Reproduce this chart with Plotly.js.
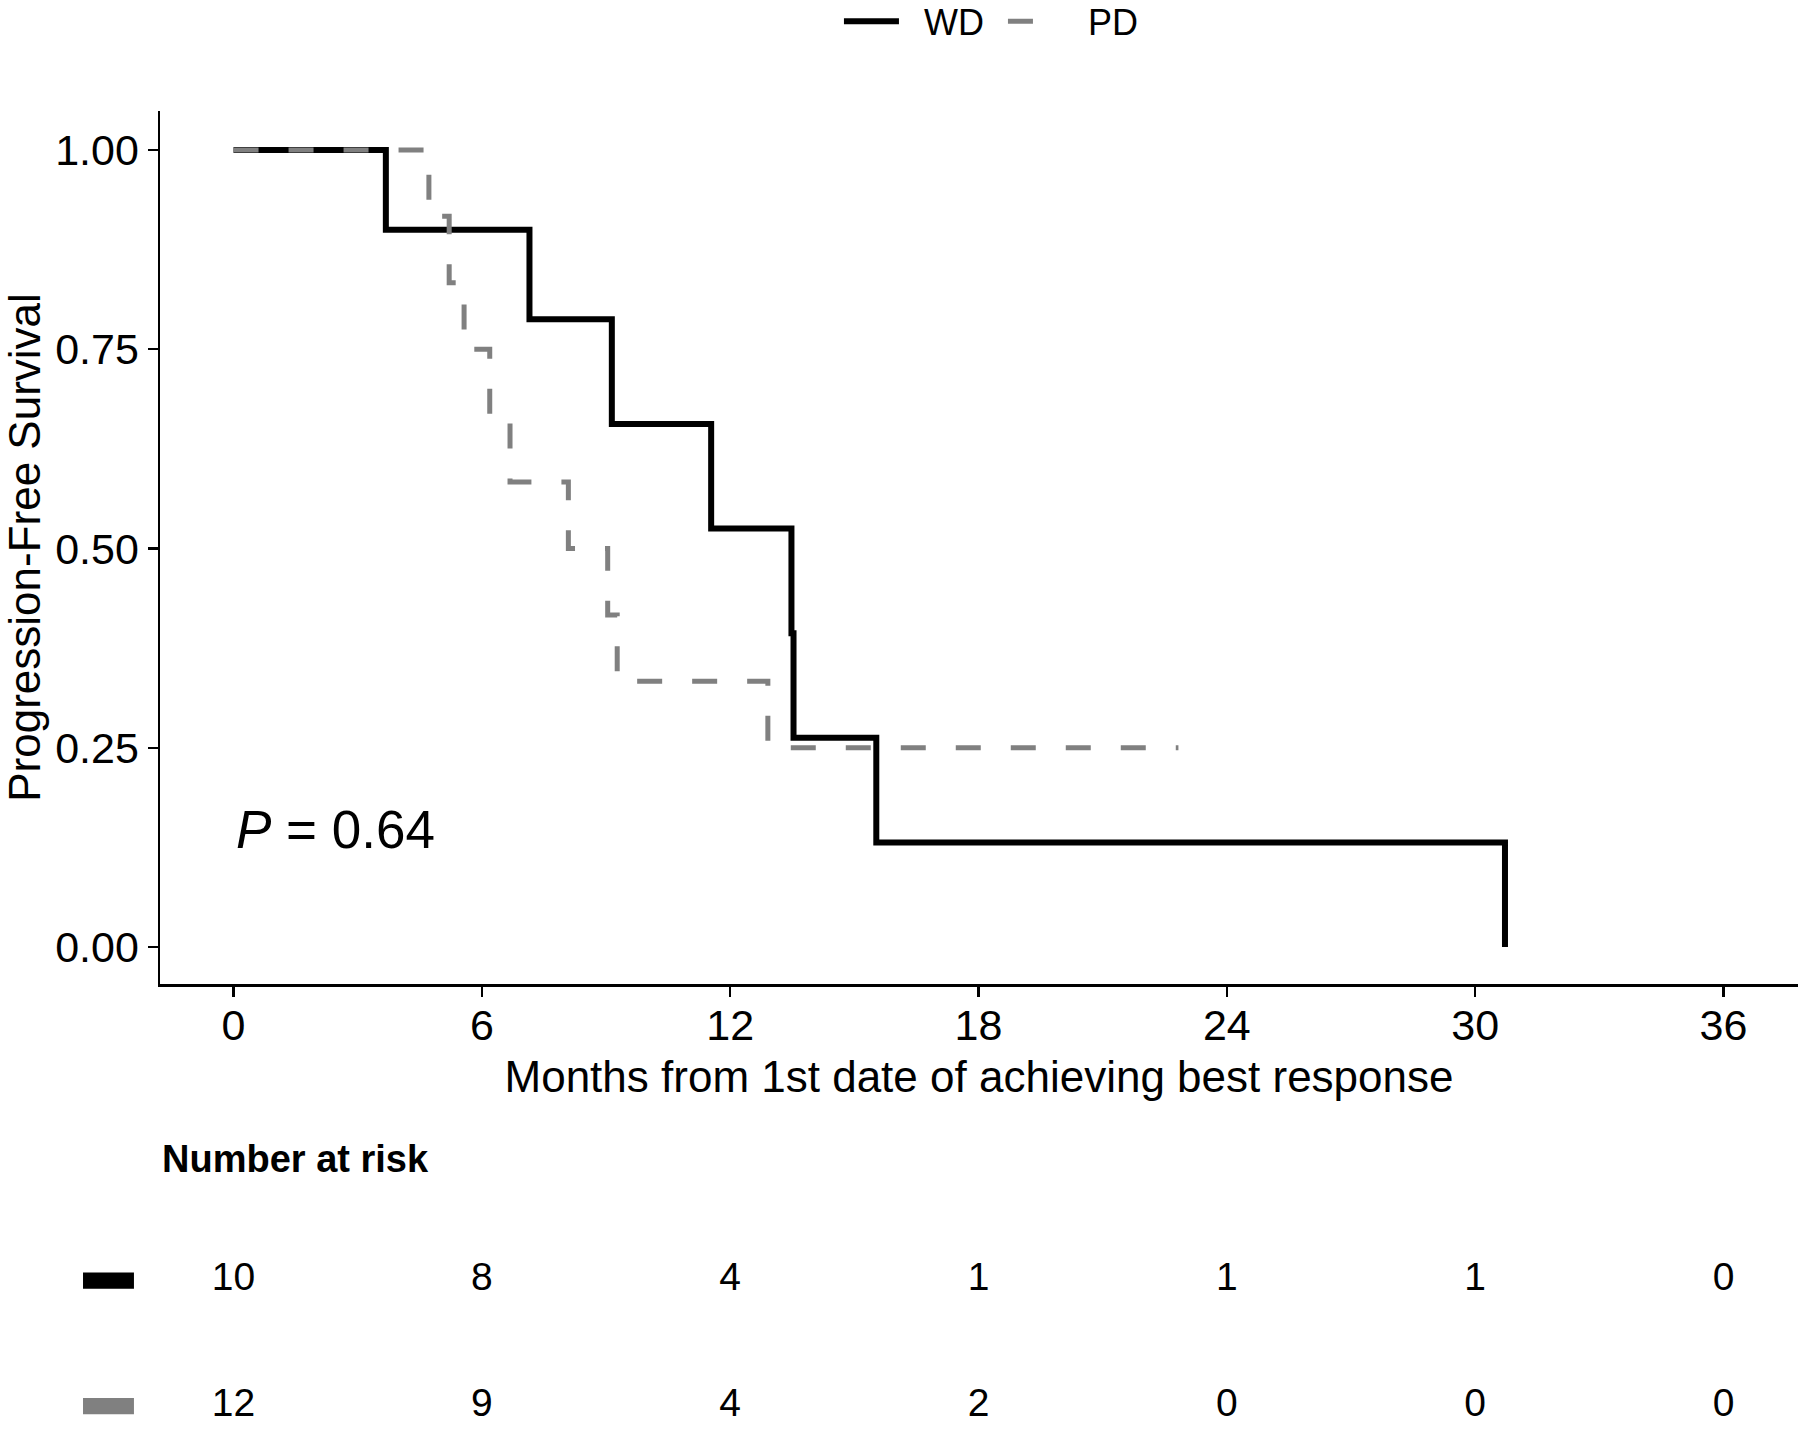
<!DOCTYPE html>
<html>
<head>
<meta charset="utf-8">
<script src="https://cdn.plot.ly/plotly-3.0.1.min.js"></script>
<style>html,body{margin:0;padding:0;background:#fff;}#chart{width:1800px;height:1430px;}</style>
</head>
<body>
<div id="chart"></div>
<script>
// ---- data ----
const groups = ['WD', 'PD'];
const wdTimes = [0, 3.68, 7.15, 9.14, 11.54, 13.48, 13.53, 15.53, 30.72];
const wdSurv  = [1, 0.9, 0.7875, 0.65625, 0.525, 0.39375, 0.2625, 0.13125, 0];
const pdTimes = [0, 4.72, 5.21, 5.57, 6.19, 6.68, 8.09, 9.04, 9.27, 12.91, 22.83];
const pdSurv  = [1, 0.9167, 0.8333, 0.75, 0.6667, 0.5833, 0.5, 0.4167, 0.3333, 0.25, 0.25];
const xTicks = [0, 6, 12, 18, 24, 30, 36];
const yTicks = [0, 0.25, 0.5, 0.75, 1];
const riskTimes = [0, 6, 12, 18, 24, 30, 36];
const wdRisk = [10, 8, 4, 1, 1, 1, 0];
const pdRisk = [12, 9, 4, 2, 0, 0, 0];
const pValueText = '<i>P</i> = 0.64';

// ---- styles ----
const FONT = 'Liberation Sans, Arial, sans-serif';
const WD_COLOR = '#000000';
const PD_COLOR = '#808080';
const xRange = [-1.777, 37.8];
const LEGEND_PAD = '\u00a0\u00a0';

const traces = [
  {
    x: wdTimes, y: wdSurv, name: LEGEND_PAD + groups[0], type: 'scatter', mode: 'lines',
    line: {shape: 'hv', color: WD_COLOR, width: 6},
    xaxis: 'x', yaxis: 'y', hoverinfo: 'skip'
  },
  {
    x: pdTimes, y: pdSurv, name: LEGEND_PAD + groups[1], type: 'scatter', mode: 'lines',
    line: {shape: 'hv', color: PD_COLOR, width: 5, dash: '25px,30px'},
    xaxis: 'x', yaxis: 'y', hoverinfo: 'skip'
  },
  {
    x: riskTimes, y: riskTimes.map(() => groups[0]), text: wdRisk.map(String),
    type: 'scatter', mode: 'text', textposition: 'middle center',
    textfont: {family: FONT, size: 39, color: '#000'},
    xaxis: 'x2', yaxis: 'y2', showlegend: false, hoverinfo: 'skip'
  },
  {
    x: riskTimes, y: riskTimes.map(() => groups[1]), text: pdRisk.map(String),
    type: 'scatter', mode: 'text', textposition: 'middle center',
    textfont: {family: FONT, size: 39, color: '#000'},
    xaxis: 'x2', yaxis: 'y2', showlegend: false, hoverinfo: 'skip'
  }
];

const axisCommon = {
  showline: true, linecolor: '#000', linewidth: 2.5,
  ticks: 'outside', ticklen: 10, tickwidth: 2.5, tickcolor: '#000',
  showgrid: false, zeroline: false,
  tickfont: {family: FONT, size: 43, color: '#000'}
};

const layout = {
  width: 1800, height: 1430,
  margin: {l: 160, r: 2, t: 111, b: 0, autoexpand: false},
  paper_bgcolor: '#fff', plot_bgcolor: '#fff',
  font: {family: FONT, color: '#000'},
  showlegend: true,
  legend: {
    orientation: 'h', x: 0.4145, xanchor: 'left', y: 1.068, yanchor: 'middle',
    itemwidth: 55, entrywidth: 94, entrywidthmode: 'pixels',
    font: {family: FONT, size: 36, color: '#000'}, bgcolor: 'rgba(0,0,0,0)'
  },
  xaxis: Object.assign({}, axisCommon, {
    domain: [0, 1], anchor: 'y', range: xRange,
    tickmode: 'array', tickvals: xTicks, ticktext: xTicks.map(String),
    ticklabelstandoff: -8,
    title: {text: 'Months from 1st date of achieving best response',
            font: {family: FONT, size: 44, color: '#000'}, standoff: 13}
  }),
  yaxis: Object.assign({}, axisCommon, {
    domain: [0.33813, 1], anchor: 'x', range: [-0.0464, 1.0489],
    tickmode: 'array', tickvals: yTicks, ticktext: yTicks.map(v => v.toFixed(2)),
    title: {text: 'Progression-Free Survival',
            font: {family: FONT, size: 44, color: '#000'}, standoff: 14}
  }),
  xaxis2: {domain: [0, 1], anchor: 'y2', range: xRange, visible: false, fixedrange: true},
  yaxis2: {domain: [0, 0.16092], anchor: 'x2', type: 'category',
           categoryarray: [groups[1], groups[0]], range: [-0.19, 1.5], visible: false},
  annotations: [
    {text: pValueText, xref: 'x', yref: 'y', x: 0, y: 0.148, xanchor: 'left', yanchor: 'middle',
     showarrow: false, font: {family: FONT, size: 53, color: '#000'}},
    {text: '<b>Number at risk</b>', xref: 'paper', yref: 'paper', x: 0, y: 0.2055,
     xanchor: 'left', yanchor: 'middle', showarrow: false,
     font: {family: FONT, size: 38, color: '#000'}}
  ],
  shapes: [
    {type: 'rect', xref: 'paper', yref: 'y2', x0: -0.047, x1: -0.0159, y0: 0.935, y1: 1.065,
     fillcolor: WD_COLOR, line: {width: 0}},
    {type: 'rect', xref: 'paper', yref: 'y2', x0: -0.047, x1: -0.0159, y0: -0.065, y1: 0.065,
     fillcolor: PD_COLOR, line: {width: 0}}
  ]
};

Plotly.newPlot('chart', traces, layout, {displayModeBar: false, staticPlot: true});
</script>
</body>
</html>
